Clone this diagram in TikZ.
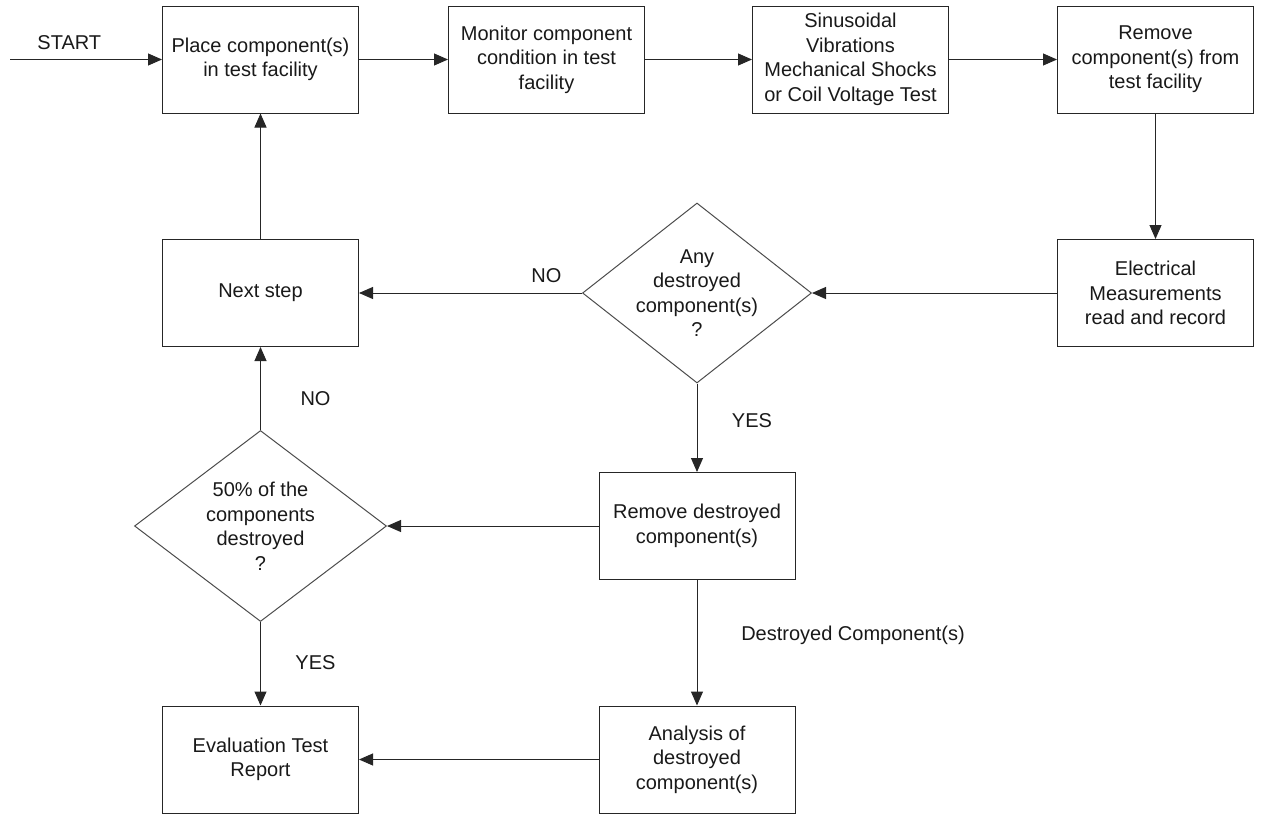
\documentclass[tikz,border=0pt]{standalone}
\usepackage{fontspec}
\setmainfont{Liberation Sans}
\usetikzlibrary{arrows.meta,shapes.geometric}
\begin{document}
\begin{tikzpicture}[x=1pt,y=-1pt,
  txt/.style={font=\fontsize{20}{24.5}\selectfont, text=black!90},
  box/.style={txt, draw=black!85, line width=1pt, minimum width=196pt, minimum height=107pt, inner sep=0pt, align=center},
  dec/.style={draw=black!70, line width=1pt, diamond, inner sep=0pt},
  arr/.style={draw=black!85, line width=1pt, -{Triangle[length=14pt,width=12pt]}},
  lbl/.style={txt, inner sep=0pt}]
\useasboundingbox (0,0) rectangle (1261,814);

\node[box] (place) at (260.5,59.5) {Place component(s)\\in test facility};
\node[box] (mon) at (546.5,59.5) {Monitor component\\condition in test\\facility};
\node[box] (sin) at (850.5,59.5) {Sinusoidal\\Vibrations\\Mechanical Shocks\\or Coil Voltage Test};
\node[box] (rem) at (1155.5,59.5) {Remove\\component(s) from\\test facility};
\node[box] (elec) at (1155.5,293) {Electrical\\Measurements\\read and record};
\node[dec, minimum width=229pt, minimum height=180pt,
  label={[txt, align=center]center:Any\\destroyed\\component(s)\\?}] (d1) at (697,293) {};
\node[box] (next) at (260.5,293) {Next step};
\node[box] (rd) at (697,526) {Remove destroyed\\component(s)};
\node[dec, minimum width=252pt, minimum height=191pt,
  label={[txt, align=center]center:50\% of the\\components\\destroyed\\?}] (d2) at (260.5,526) {};
\node[box] (ana) at (697,759.5) {Analysis of\\destroyed\\component(s)};
\node[box] (eval) at (260.5,759.5) {Evaluation Test\\Report};

\coordinate (start) at (10,59.5);

\draw[arr] (start) -- node[lbl, pos=0.39, yshift=17pt] {START} (place);
\draw[arr] (place) -- (mon);
\draw[arr] (mon) -- (sin);
\draw[arr] (sin) -- (rem);
\draw[arr] (rem) -- (elec);
\draw[arr] (elec) -- (d1);
\draw[arr] (d1) -- node[lbl, pos=0.16, yshift=17pt] {NO} (next);
\draw[arr] (d1) -- node[lbl, pos=0.42, xshift=55pt] {YES} (rd);
\draw[arr] (rd) -- (d2);
\draw[arr] (d2) -- node[lbl, pos=0.38, xshift=55pt] {NO} (next);
\draw[arr] (d2) -- node[lbl, pos=0.49, xshift=55pt] {YES} (eval);
\draw[arr] (next) -- (place);
\draw[arr] (rd) -- node[lbl, pos=0.44, xshift=156pt] {Destroyed Component(s)} (ana);
\draw[arr] (ana) -- (eval);
\end{tikzpicture}
\end{document}
